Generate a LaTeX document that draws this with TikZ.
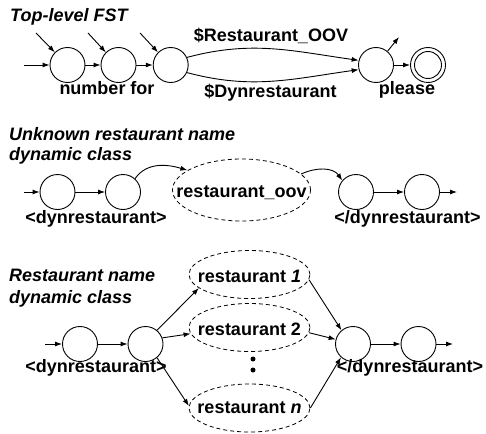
\documentclass[tikz,border=0pt]{standalone}
\usepackage{fontspec}
\setmainfont{Liberation Sans}
\usetikzlibrary{arrows.meta,shapes.geometric}
\begin{document}
\begin{tikzpicture}[x=1pt,y=-1pt,
  font=\fontsize{18}{20}\selectfont\bfseries,
  st/.style={circle,draw,line width=0.9pt,minimum size=35pt,inner sep=0pt},
  stin/.style={circle,draw,line width=0.9pt,minimum size=27pt,inner sep=0pt},
  cls/.style={ellipse,draw,dashed,dash pattern=on 4pt off 3pt,line width=0.8pt,inner sep=0pt},
  lbl/.style={anchor=base,inner sep=0pt},
  ttl/.style={anchor=base west,inner sep=0pt,font=\fontsize{18}{20}\selectfont\bfseries\itshape},
  arr/.style={-{Latex[length=7pt,width=5pt]},line width=0.9pt},
  dotn/.style={circle,fill,inner sep=0pt,minimum size=5pt}]
\useasboundingbox (0,0) rectangle (486,433);

% ---------- Row 1 ----------
\node[ttl] (t1) at (10,21.7) {Top-level FST};
\node[st] (r1a) at (67.5,65) {};
\node[st] (r1b) at (118.5,65) {};
\node[st] (r1c) at (170.7,65) {};
\node[st] (r1d) at (376,65) {};
\node[st] (r1f) at (428,65) {};
\node[stin] (r1fi) at (428,65) {};
\coordinate (r1in) at (24,65);
\coordinate (r1s1) at (36,33);
\coordinate (r1s2) at (88,33);
\coordinate (r1s3) at (140,33);
\coordinate (r1out) at (399,37);
\draw[arr] (r1in) -- (r1a);
\draw[arr] (r1a) -- (r1b);
\draw[arr] (r1b) -- (r1c);
\draw[arr] (r1s1) -- (r1a.135);
\draw[arr] (r1s2) -- (r1b.135);
\draw[arr] (r1s3) -- (r1c.135);
\draw[arr] (r1c.25) to[out=15,in=172] (r1d.165);
\draw[arr] (r1c.-25) to[out=-15,in=-172] (r1d.-165);
\draw[arr] (r1d.50) -- (r1out);
\draw[arr] (r1d) -- (r1f);
\node[lbl] (l1a) at (107,95) {number for};
\node[lbl] (l1b) at (407,95) {please};
\node[lbl] (l1c) at (271,41.5) {\$Restaurant\_OOV};
\node[lbl] (l1d) at (270.5,98) {\$Dynrestaurant};

% ---------- Row 2 ----------
\node[ttl] (t2a) at (9,140.7) {Unknown restaurant name};
\node[ttl] (t2b) at (9,160.7) {dynamic class};
\node[st] (r2a) at (57.5,192) {};
\node[st] (r2b) at (123,192) {};
\node[cls,minimum width=138pt,minimum height=62pt] (oov) at (241.5,190) {};
\node[lbl] (oovt) at (241.5,197) {restaurant\_oov};
\node[st] (r2c) at (356,192) {};
\node[st] (r2d) at (422,192) {};
\coordinate (r2in) at (24,192);
\coordinate (r2out) at (457,192);
\draw[arr] (r2in) -- (r2a);
\draw[arr] (r2a) -- (r2b);
\draw[arr] (r2b.48) to[out=55,in=163] (oov.160);
\draw[arr] (oov.15) to[out=25,in=125] (r2c.140);
\draw[arr] (r2c) -- (r2d);
\draw[arr] (r2d) -- (r2out);
\node[lbl] (l2a) at (96,223) {<dynrestaurant>};
\node[lbl] (l2b) at (407.5,223) {</dynrestaurant>};

% ---------- Row 3 ----------
\node[ttl] (t3a) at (9,281.7) {Restaurant name};
\node[ttl] (t3b) at (9,303) {dynamic class};
\node[st] (r3a) at (80,344) {};
\node[st] (r3b) at (145.5,344) {};
\node[st] (r3c) at (353,344) {};
\node[st] (r3d) at (418.5,344) {};
\node[cls,minimum width=121pt,minimum height=48pt] (e1) at (249.5,274.5) {};
\node[cls,minimum width=121pt,minimum height=48pt] (e2) at (249.5,327.5) {};
\node[cls,minimum width=121pt,minimum height=48pt] (e3) at (249.5,408) {};
\node[lbl] (e1t) at (249.5,282) {restaurant \textit{1}};
\node[lbl] (e2t) at (249.5,335) {restaurant 2};
\node[lbl] (e3t) at (249.5,413) {restaurant \textit{n}};
\node[dotn] (d1) at (253,359) {};
\node[dotn] (d2) at (253,370) {};
\coordinate (r3in) at (45,344);
\coordinate (r3out) at (453,344);
\draw[arr] (r3in) -- (r3a);
\draw[arr] (r3a) -- (r3b);
\draw[arr] (r3b.50) -- (e1.195);
\draw[arr] (r3b.20) -- (e2.186);
\draw[arr] (r3b.-50) -- (e3.178);
\draw[arr] (e1.-5) -- (r3c.130);
\draw[arr] (e2.-5) -- (r3c.165);
\draw[arr] (e3.0) -- (r3c.228);
\draw[arr] (r3c) -- (r3d);
\draw[arr] (r3d) -- (r3out);
\node[lbl] (l3a) at (96,372) {<dynrestaurant>};
\node[lbl] (l3b) at (410,372) {</dynrestaurant>};
\end{tikzpicture}
\end{document}
